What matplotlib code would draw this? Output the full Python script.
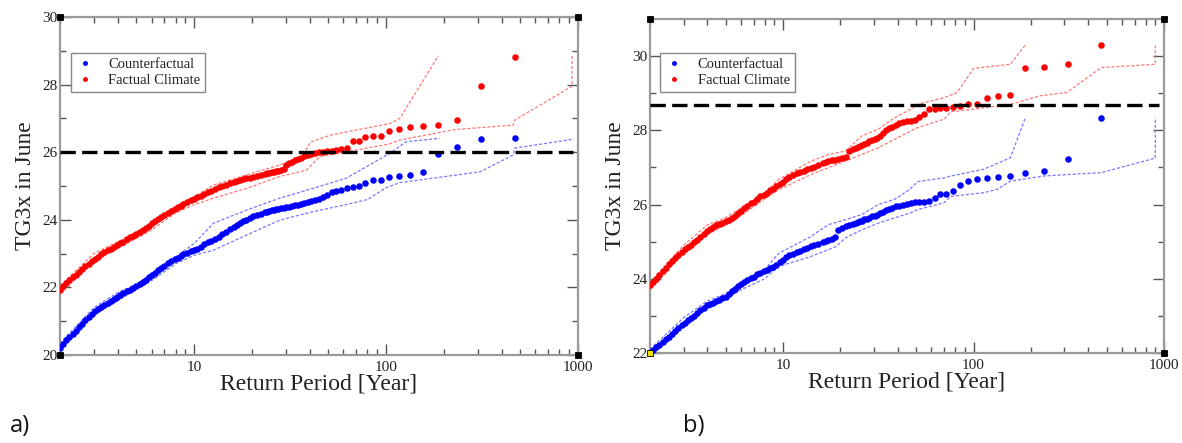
import matplotlib
matplotlib.use("Agg")
import matplotlib.pyplot as plt
from matplotlib.ticker import FixedLocator, NullFormatter

# ---------------- data ----------------
return_period = [468, 312, 234, 187, 156, 134, 117, 104, 93.6, 85.1, 78, 72, 66.9, 62.4, 58.5,
                 55.1, 52, 49.3, 46.8, 44.6, 42.5, 40.7, 39, 37.4, 36, 34.7, 33.4, 32.3, 31.2,
                 30.2, 29.3, 28.4, 27.5, 26.7, 26, 25.3, 24.6, 24, 23.4, 22.3, 21.3, 20.3, 19.5,
                 18.7, 18, 17.3, 16.7, 16.1, 15.3, 14.6, 14, 13.4, 12.8, 12.3, 11.8, 11.3, 10.8,
                 10.4, 10, 9.6, 9.2, 8.8, 8.5, 8.2, 7.9, 7.6, 7.3, 7.0, 6.75, 6.5, 6.25, 6.0, 5.8,
                 5.6, 5.4, 5.2, 5.0, 4.8, 4.62, 4.45, 4.28, 4.12, 3.97, 3.82, 3.68, 3.54, 3.41,
                 3.28, 3.16, 3.04, 2.93, 2.82, 2.71, 2.61, 2.51, 2.42, 2.33, 2.24, 2.16, 2.08, 2.01]

# panel a) factual (red) and counterfactual (blue)
a_factual = [28.81, 27.97, 26.96, 26.80, 26.78, 26.74, 26.68, 26.62, 26.48, 26.47, 26.44, 26.34, 26.34, 26.13, 26.09,
             26.07, 26.05, 26.03, 26.01, 26.00, 25.97, 25.94, 25.92, 25.88, 25.84, 25.80, 25.76, 25.72, 25.68,
             25.63, 25.49, 25.47, 25.45, 25.43, 25.42, 25.40, 25.38, 25.37, 25.35, 25.32, 25.30, 25.27, 25.25,
             25.23, 25.20, 25.17, 25.14, 25.12, 25.08, 25.04, 25.00, 24.96, 24.91, 24.86, 24.81, 24.76, 24.71,
             24.67, 24.63, 24.58, 24.53, 24.47, 24.41, 24.37, 24.33, 24.27, 24.20, 24.14, 24.08, 24.03, 23.97, 23.90, 23.83,
             23.76, 23.70, 23.64, 23.58, 23.53, 23.48, 23.42, 23.34, 23.30, 23.25, 23.20, 23.15, 23.10, 23.04,
             22.98, 22.91, 22.84, 22.78, 22.70, 22.62, 22.55, 22.47, 22.38, 22.30, 22.22, 22.13, 22.03, 21.93]
a_counter = [26.43, 26.39, 26.14, 25.94, 25.41, 25.33, 25.31, 25.26, 25.18, 25.18, 25.08, 25.00, 24.98, 24.93, 24.87,
             24.84, 24.82, 24.74, 24.67, 24.63, 24.60, 24.57, 24.54, 24.50, 24.47, 24.45, 24.43, 24.41, 24.39,
             24.37, 24.36, 24.35, 24.33, 24.31, 24.30, 24.28, 24.26, 24.24, 24.22, 24.18, 24.14, 24.10, 24.06,
             24.00, 23.95, 23.90, 23.84, 23.79, 23.72, 23.64, 23.57, 23.50, 23.44, 23.38, 23.33, 23.27, 23.20,
             23.15, 23.11, 23.07, 23.03, 22.98, 22.93, 22.88, 22.84, 22.79, 22.71, 22.62, 22.56, 22.50, 22.44, 22.36, 22.30,
             22.23, 22.17, 22.11, 22.05, 21.99, 21.93, 21.88, 21.83, 21.78, 21.72, 21.67, 21.61, 21.55, 21.49,
             21.42, 21.36, 21.29, 21.21, 21.12, 21.03, 20.93, 20.83, 20.72, 20.62, 20.52, 20.43, 20.33, 20.21]

# panel b)
b_factual = [30.30, 29.78, 29.70, 29.67, 28.96, 28.93, 28.86, 28.70, 28.70, 28.66, 28.63, 28.60, 28.59, 28.57, 28.57,
             28.45, 28.35, 28.28, 28.26, 28.24, 28.22, 28.19, 28.15, 28.10, 28.05, 28.00, 27.92, 27.86, 27.80,
             27.76, 27.73, 27.70, 27.66, 27.63, 27.60, 27.57, 27.54, 27.52, 27.49, 27.45, 27.27, 27.25, 27.23,
             27.21, 27.20, 27.17, 27.14, 27.11, 27.07, 27.02, 26.99, 26.95, 26.91, 26.87, 26.84, 26.80, 26.73,
             26.68, 26.62, 26.56, 26.49, 26.43, 26.38, 26.32, 26.27, 26.22, 26.16, 26.08, 26.03, 25.97, 25.90, 25.82, 25.76,
             25.70, 25.64, 25.59, 25.55, 25.50, 25.47, 25.44, 25.40, 25.33, 25.28, 25.20, 25.12, 25.05, 24.98,
             24.92, 24.85, 24.79, 24.72, 24.64, 24.56, 24.48, 24.40, 24.30, 24.20, 24.10, 24.00, 23.90, 23.82]
b_counter = [28.32, 27.24, 26.90, 26.84, 26.77, 26.74, 26.72, 26.68, 26.63, 26.52, 26.36, 26.29, 26.29, 26.18, 26.10,
             26.08, 26.07, 26.06, 26.05, 26.02, 25.99, 25.97, 25.95, 25.92, 25.88, 25.84, 25.80, 25.77, 25.73,
             25.70, 25.68, 25.65, 25.62, 25.60, 25.57, 25.55, 25.52, 25.50, 25.48, 25.45, 25.42, 25.38, 25.32,
             25.12, 25.08, 25.05, 25.02, 24.98, 24.94, 24.90, 24.87, 24.83, 24.79, 24.76, 24.72, 24.68, 24.63,
             24.58, 24.50, 24.44, 24.37, 24.32, 24.28, 24.24, 24.20, 24.16, 24.12, 24.06, 24.02, 23.98, 23.92, 23.85, 23.80,
             23.73, 23.66, 23.58, 23.52, 23.47, 23.42, 23.40, 23.36, 23.32, 23.28, 23.22, 23.15, 23.08, 23.00,
             22.94, 22.88, 22.82, 22.76, 22.68, 22.60, 22.52, 22.44, 22.37, 22.30, 22.22, 22.15, 22.08, 22.02]

# confidence bands (dashed lines): return periods and values
a_fact_up_T = [2, 3, 4, 5, 6, 8, 10, 12.6, 18.8, 27.9, 36, 40.5, 51, 62, 105, 118, 187]
a_fact_up_v = [22.05, 23.0, 23.35, 23.65, 23.9, 24.4, 24.68, 25.03, 25.33, 25.62, 25.85, 26.3, 26.5, 26.6, 26.85, 27.0, 28.85]
a_fact_lo_T = [2, 3, 4, 5, 6, 8, 10, 12.6, 18.8, 27.9, 38.5, 45, 62, 105, 118, 228, 460, 468, 930, 930]
a_fact_lo_v = [21.8, 22.8, 23.15, 23.45, 23.7, 24.2, 24.45, 24.64, 24.93, 25.28, 25.47, 25.87, 26.01, 26.25, 26.36, 26.67, 26.8, 26.95, 27.95, 28.85]
a_cf_up_T = [2, 3, 4, 5, 6, 8, 10, 12.6, 18.8, 27.9, 41.6, 62, 105, 127, 190]
a_cf_up_v = [20.35, 21.4, 21.85, 22.1, 22.4, 22.9, 23.3, 23.9, 24.29, 24.64, 24.93, 25.23, 25.97, 26.31, 26.41]
a_cf_lo_T = [2, 3, 4, 5, 6, 8, 10, 12.6, 18.8, 27.9, 41.6, 62, 80, 100, 118, 309, 460, 468, 930]
a_cf_lo_v = [20.15, 21.2, 21.6, 21.95, 22.2, 22.7, 22.95, 23.1, 23.55, 23.99, 24.24, 24.45, 24.6, 24.95, 25.1, 25.42, 25.92, 26.12, 26.38]

b_fact_up_T = [2, 3, 4, 5, 6, 8, 9.5, 14, 17.3, 21.2, 25.9, 31.6, 38.5, 46.8, 50.6, 70, 82, 100, 156, 187]
b_fact_up_v = [23.9, 24.9, 25.45, 25.65, 25.9, 26.3, 26.68, 27.17, 27.35, 27.44, 27.85, 28.03, 28.34, 28.57, 28.7, 28.88, 29.02, 29.67, 29.78, 30.3]
b_fact_lo_T = [2, 3, 4, 5, 6, 8, 9.5, 14, 21.2, 25.9, 31.6, 38.5, 46.8, 50.6, 70, 76, 100, 156, 223, 309, 468, 900, 900]
b_fact_lo_v = [23.7, 24.7, 25.2, 25.45, 25.7, 26.15, 26.4, 26.81, 27.17, 27.35, 27.53, 27.76, 27.98, 28.07, 28.3, 28.5, 28.57, 28.7, 28.93, 29.02, 29.69, 29.78, 30.28]
b_cf_up_T = [2, 3, 4, 5, 6, 8, 9.5, 14, 17.3, 21.2, 25.9, 31.6, 38.5, 46, 51, 70, 76, 113, 156, 187]
b_cf_up_v = [22.1, 22.95, 23.4, 23.6, 23.9, 24.25, 24.69, 25.14, 25.46, 25.59, 25.73, 26.0, 26.14, 26.4, 26.62, 26.72, 26.77, 26.95, 27.26, 28.34]
b_cf_lo_T = [2, 3, 4, 5, 6, 8, 9.5, 14, 19, 21.2, 25.9, 31.6, 46.8, 50.6, 70, 76, 113, 133, 156, 233, 468, 900, 900]
b_cf_lo_v = [21.95, 22.75, 23.2, 23.45, 23.7, 24.0, 24.33, 24.6, 24.87, 25.1, 25.32, 25.5, 25.78, 25.86, 26.05, 26.22, 26.32, 26.41, 26.63, 26.77, 26.86, 27.25, 28.35]

threshold_a = 26.0
threshold_b = 28.68

legend_labels = ["Counterfactual", "Factual Climate"]
xlabel = "Return Period [Year]"
ylabel = "TG3x in June"
xticks = [10, 100, 1000]
xtick_labels = ["10", "100", "1000"]
a_yticks = [20, 22, 24, 26, 28, 30]
b_yticks = [22, 24, 26, 28, 30]

# ---------------- figure ----------------
W, H = 1182, 443
fig = plt.figure(figsize=(W / 100, H / 100), dpi=100)

SERIF = ["Liberation Serif", "DejaVu Serif"]
FRAME = "#9a9a9a"


def make_panel(rect, ylim, yticks, fact, cf, bands, thr, leg_anchor, corner_colors):
    ax = fig.add_axes(rect)
    ax.set_xscale("log")
    ax.set_xlim(2, 1000)
    ax.set_ylim(*ylim)
    for sp in ax.spines.values():
        sp.set_color(FRAME)
        sp.set_linewidth(1.6)
    (fu_T, fu_v), (fl_T, fl_v), (cu_T, cu_v), (cl_T, cl_v) = bands
    band_ls = (0, (2.5, 1.5))
    ax.plot(cu_T, cu_v, color="#7777ff", lw=0.9, ls=band_ls, zorder=2)
    ax.plot(cl_T, cl_v, color="#7777ff", lw=0.9, ls=band_ls, zorder=2)
    ax.plot(fu_T, fu_v, color="#ff7777", lw=0.9, ls=band_ls, zorder=2)
    ax.plot(fl_T, fl_v, color="#ff7777", lw=0.9, ls=band_ls, zorder=2)
    ax.plot(return_period, cf, ls="none", marker="o", ms=4.7, mew=0, color="#0000ff", zorder=3,
            label=legend_labels[0])
    ax.plot(return_period, fact, ls="none", marker="o", ms=4.7, mew=0, color="#ff0000", zorder=3,
            label=legend_labels[1])
    ax.axhline(thr, xmin=0, xmax=0.99, color="black", lw=2.4, ls=(0, (4.6, 1.9)), zorder=4)

    ax.xaxis.set_major_locator(FixedLocator(xticks))
    ax.set_xticklabels(xtick_labels)
    minors = [m * d for d in (1, 10, 100) for m in range(2, 10)]
    ax.xaxis.set_minor_locator(FixedLocator(minors))
    ax.xaxis.set_minor_formatter(NullFormatter())
    ax.set_yticks(yticks)
    ax.set_yticklabels([str(v) for v in yticks])
    ymin = [v + 1 for v in yticks if v + 1 < ylim[1]]
    ax.yaxis.set_minor_locator(FixedLocator(ymin))
    ax.tick_params(which="both", direction="in", top=True, right=True, color="#555555", width=1.0)
    ax.tick_params(which="major", length=8, labelsize=11)
    ax.tick_params(axis="x", which="major", pad=4)
    ax.tick_params(axis="y", which="major", pad=2)
    ax.tick_params(which="minor", length=4)
    for lab in ax.get_xticklabels() + ax.get_yticklabels():
        lab.set_family(SERIF)
        lab.set_color("#222222")
    ax.set_xlabel(xlabel, family=SERIF, fontsize=17, color="#222222", labelpad=0)
    ax.set_ylabel(ylabel, family=SERIF, fontsize=17, color="#222222", labelpad=4)

    leg = ax.legend(loc="upper left", bbox_to_anchor=leg_anchor, frameon=True, fancybox=False,
                    edgecolor="#888888", framealpha=1, markerscale=0.75, handlelength=1.2,
                    handletextpad=1.0, borderpad=0.35, labelspacing=0.15,
                    prop={"family": SERIF, "size": 10.5})
    leg.get_frame().set_linewidth(1.0)
    for t in leg.get_texts():
        t.set_color("#222222")

    # small corner squares (grace-style)
    for (cx, cy), c in zip([(0, 0), (0, 1), (1, 1), (1, 0)], corner_colors):
        ax.plot([cx], [cy], marker="s", ms=4, color=c, mec="black", mew=0.6,
                transform=ax.transAxes, clip_on=False, zorder=6)
    return ax


ax_a = make_panel([60 / W, 1 - 355 / H, 518 / W, 338 / H], (20, 30), a_yticks,
                  a_factual, a_counter,
                  [(a_fact_up_T, a_fact_up_v), (a_fact_lo_T, a_fact_lo_v),
                   (a_cf_up_T, a_cf_up_v), (a_cf_lo_T, a_cf_lo_v)],
                  threshold_a, (0.007, 0.915), ["black"] * 4)
ax_b = make_panel([650 / W, 1 - 353 / H, 514 / W, 334 / H], (22, 31), b_yticks,
                  b_factual, b_counter,
                  [(b_fact_up_T, b_fact_up_v), (b_fact_lo_T, b_fact_lo_v),
                   (b_cf_up_T, b_cf_up_v), (b_cf_lo_T, b_cf_lo_v)],
                  threshold_b, (0.006, 0.92), ["#f0e000", "black", "black", "black"])

fig.text(10 / W, 1 - 432 / H, "a)", family=["Open Sans", "DejaVu Sans"], fontsize=17, va="baseline", color="#111111")
fig.text(683 / W, 1 - 432 / H, "b)", family=["Open Sans", "DejaVu Sans"], fontsize=17, va="baseline", color="#111111")

fig.savefig("out.png", dpi=100, facecolor="white")
